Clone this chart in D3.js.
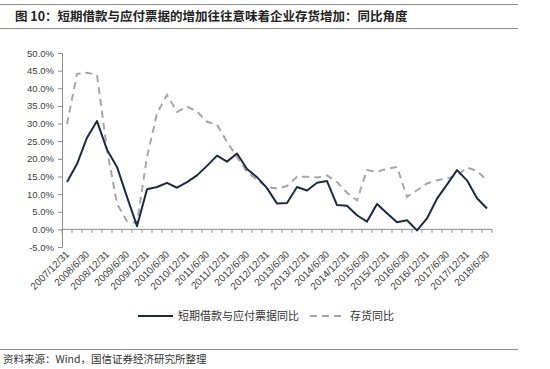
<!DOCTYPE html>
<html><head><meta charset="utf-8">
<script src="https://cdn.jsdelivr.net/npm/d3@7/dist/d3.min.js"></script>
<style>
html,body{margin:0;padding:0;background:#fff;}
svg{display:block;}
</style>
</head><body>
<svg id="chart" width="550" height="369"></svg>
<script>
const categories = [
"2007/12/31","2008/3/31","2008/6/30","2008/9/30","2008/12/31","2009/3/31","2009/6/30","2009/9/30","2009/12/31",
"2010/3/31","2010/6/30","2010/9/30","2010/12/31","2011/3/31","2011/6/30","2011/9/30","2011/12/31",
"2012/3/31","2012/6/30","2012/9/30","2012/12/31","2013/3/31","2013/6/30","2013/9/30","2013/12/31",
"2014/3/31","2014/6/30","2014/9/30","2014/12/31","2015/3/31","2015/6/30","2015/9/30","2015/12/31",
"2016/3/31","2016/6/30","2016/9/30","2016/12/31","2017/3/31","2017/6/30","2017/9/30","2017/12/31",
"2018/3/31","2018/6/30"];
const loanBillsYoY = [13.4,18.5,26.0,30.7,22.6,17.7,9.2,0.9,11.4,12.0,13.2,11.8,13.4,15.3,18.0,20.9,19.2,21.5,17.1,14.8,11.7,7.3,7.5,12.0,
11.0,13.2,13.7,6.9,6.7,4.0,2.2,7.2,4.6,2.0,2.6,-0.3,3.1,8.7,12.7,16.8,13.9,8.8,5.9];
const inventoryYoY = [29.8,44.1,44.4,43.8,22.5,7.3,2.3,1.8,20.5,32.9,38.1,33.3,34.8,33.4,30.5,29.7,24.8,20.5,16.3,14.0,12.0,11.6,12.3,14.9,
14.9,14.7,15.3,13.4,10.4,8.2,16.8,16.3,17.2,17.7,9.2,11.1,13.0,13.9,14.4,15.3,17.5,16.6,13.9];
const yTicks = [-5,0,5,10,15,20,25,30,35,40,45,50];
const seriesNames = ["短期借款与应付票据同比","存货同比"];
const titleText = "图 10：短期借款与应付票据的增加往往意味着企业存货增加：同比角度";
const sourceText = "资料来源：Wind，国信证券经济研究所整理";

(function(){
const svg = d3.select("#chart");
const pl = 62, pr = 492, pt = 53, pb = 247;
const x = d3.scaleBand().domain(categories).range([pl, pr]).padding(0);
const y = d3.scaleLinear().domain([-5, 50]).range([pb, pt]);
const cx = d => x(d) + x.bandwidth() / 2;

// title lines
svg.append("line").attr("x1",0).attr("x2",518).attr("y1",4.5).attr("y2",4.5).attr("stroke","#8c8c8c").attr("stroke-width",1.2);
svg.append("line").attr("x1",0).attr("x2",518).attr("y1",28.5).attr("y2",28.5).attr("stroke","#8c8c8c").attr("stroke-width",1.2);
svg.append("text").attr("x",15).attr("y",20.5).attr("font-family","'Noto Sans CJK SC', sans-serif")
  .attr("font-size",12.5).attr("font-weight","bold").attr("fill","#222").text(titleText);

// y axis
const yAxis = d3.axisLeft(y).tickValues(yTicks).tickSize(4).tickFormat(d => d.toFixed(1) + "%");
const gy = svg.append("g").attr("transform",`translate(${pl},0)`).call(yAxis);
gy.select(".domain").attr("stroke","#8c8c8c");
gy.selectAll(".tick line").attr("stroke","#8c8c8c");
gy.selectAll(".tick text").attr("font-family","'Liberation Sans', Arial, sans-serif").attr("font-size",9.5).attr("fill","#404040").attr("x",-8);

// x axis at zero, ticks at band boundaries
svg.append("line").attr("x1",pl).attr("x2",pr).attr("y1",y(0)).attr("y2",y(0)).attr("stroke","#8c8c8c");
const bounds = categories.map(c => x(c)).concat([pr]);
svg.append("g").selectAll("line").data(bounds).join("line")
  .attr("x1",d=>d).attr("x2",d=>d).attr("y1",y(0)).attr("y2",y(0)+3.5).attr("stroke","#8c8c8c");

// x labels every other category
svg.append("g").selectAll("text").data(categories.filter((c,i)=>i%2===0)).join("text")
  .attr("transform", d => `translate(${cx(d)+3},${pb+8}) rotate(-45)`)
  .attr("text-anchor","end").attr("font-family","'Liberation Sans', Arial, sans-serif")
  .attr("font-size",10).attr("fill","#404040").text(d=>d);

// lines
const lineGen = vals => d3.line().x((d,i)=>cx(categories[i])).y(d=>y(d))(vals);
svg.append("path").attr("d", lineGen(inventoryYoY)).attr("fill","none").attr("stroke","#a6a6a6")
  .attr("stroke-width",2).attr("stroke-dasharray","7,5");
svg.append("path").attr("d", lineGen(loanBillsYoY)).attr("fill","none").attr("stroke","#1c2a48")
  .attr("stroke-width",2).attr("stroke-linejoin","round");

// legend
const ly = 316;
svg.append("line").attr("x1",138).attr("x2",173).attr("y1",ly).attr("y2",ly).attr("stroke","#1c2a48").attr("stroke-width",2.2);
svg.append("text").attr("x",178).attr("y",ly+4).attr("font-family","'Noto Sans CJK SC', sans-serif").attr("font-size",11).attr("fill","#333").text(seriesNames[0]);
svg.append("line").attr("x1",310).attr("x2",342).attr("y1",ly).attr("y2",ly).attr("stroke","#a6a6a6").attr("stroke-width",2).attr("stroke-dasharray","7,5");
svg.append("text").attr("x",350).attr("y",ly+4).attr("font-family","'Noto Sans CJK SC', sans-serif").attr("font-size",11).attr("fill","#333").text(seriesNames[1]);

// footer
svg.append("line").attr("x1",0).attr("x2",518).attr("y1",349.5).attr("y2",349.5).attr("stroke","#8c8c8c").attr("stroke-width",1.2);
svg.append("text").attr("x",3).attr("y",363).attr("font-family","'Noto Sans CJK SC', sans-serif").attr("font-size",10.5).attr("fill","#333").text(sourceText);
})();
</script>
</body></html>
